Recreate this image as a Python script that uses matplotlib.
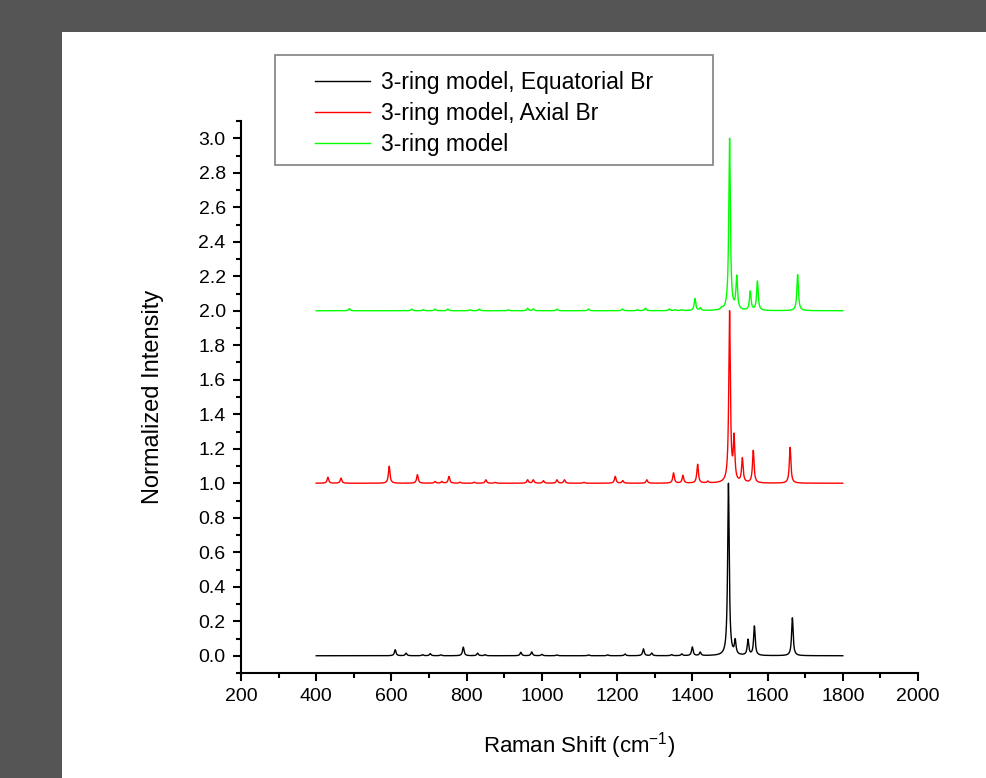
"""
Raman spectra of the 3-ring models (stacked, offset by 1.0)
"""
import matplotlib
matplotlib.use("Agg")
import matplotlib.pyplot as plt
from matplotlib.patches import Rectangle
from matplotlib.ticker import MultipleLocator
import numpy as np

plt.rcParams["font.family"] = ["Liberation Sans", "DejaVu Sans"]

# Peak lists: position (cm-1), relative height
eq_pos = [610, 639, 683, 703, 731, 791, 829, 849, 944, 973, 1000, 1040, 1124, 1175,
          1221, 1270, 1292, 1345, 1372, 1400, 1421, 1496, 1514, 1548, 1565, 1666]
eq_h = [0.035, 0.015, 0.006, 0.012, 0.005, 0.05, 0.015, 0.006, 0.02, 0.022, 0.008, 0.005,
        0.005, 0.005, 0.01, 0.04, 0.015, 0.006, 0.01, 0.05, 0.02, 1.0, 0.08, 0.09, 0.17, 0.22]

ax_pos = [431, 466, 594, 669, 716, 734, 753, 782, 820, 851, 876, 962, 977, 1004, 1040,
          1060, 1112, 1195, 1215, 1279, 1350, 1375, 1414, 1441, 1499, 1511, 1533, 1562, 1660]
ax_h = [0.035, 0.03, 0.1, 0.05, 0.01, 0.01, 0.04, 0.006, 0.006, 0.02, 0.005, 0.02, 0.02,
        0.015, 0.02, 0.02, 0.005, 0.04, 0.015, 0.02, 0.06, 0.045, 0.11, 0.01, 1.0, 0.25,
        0.14, 0.19, 0.21]

ring_pos = [488, 654, 685, 716, 750, 809, 834, 911, 962, 977, 1040, 1124, 1214, 1254,
            1275, 1339, 1354, 1372, 1407, 1421, 1478, 1499, 1518, 1554, 1573, 1680]
ring_h = [0.012, 0.01, 0.006, 0.01, 0.01, 0.006, 0.01, 0.005, 0.015, 0.01, 0.01, 0.01,
          0.01, 0.006, 0.015, 0.01, 0.006, 0.006, 0.07, 0.015, 0.01, 1.0, 0.19, 0.11,
          0.17, 0.21]

offsets = [0.0, 1.0, 2.0]
labels = ["3-ring model, Equatorial Br", "3-ring model, Axial Br", "3-ring model"]
colors = ["black", "red", "#00ff00"]


def broaden(pos, h, x, hwhm=2.5):
    """Lorentzian broadening of a stick spectrum, normalized to 1"""
    y = np.zeros_like(x)
    for p, a in zip(pos, h):
        y += a * hwhm**2 / ((x - p) ** 2 + hwhm**2)
    return y / y.max()


x = np.arange(400, 1800.01, 0.25)
spectra = [broaden(eq_pos, eq_h, x), broaden(ax_pos, ax_h, x), broaden(ring_pos, ring_h, x)]

fig = plt.figure(figsize=(9.87, 7.78), dpi=100, facecolor="#555555")
fig.patches.append(Rectangle((62 / 987, 0), 1 - 62 / 987, 1 - 32 / 778,
                             transform=fig.transFigure, facecolor="white",
                             edgecolor="none", zorder=-10))

ax = fig.add_axes([241 / 987, 1 - 673 / 778, (918 - 241) / 987, (673 - 121) / 778])
ax.set_facecolor("none")

handles = []
for y, off, lab, c in zip(spectra, offsets, labels, colors):
    (ln,) = ax.plot(x, y + off, color=c, linewidth=1.0, label=lab)
    handles.append(ln)

ax.set_xlim(200, 2000)
ax.set_ylim(-0.1, 3.1)
ax.xaxis.set_major_locator(MultipleLocator(200))
ax.xaxis.set_minor_locator(MultipleLocator(100))
ax.yaxis.set_major_locator(MultipleLocator(0.2))
ax.yaxis.set_minor_locator(MultipleLocator(0.1))
ax.yaxis.set_major_formatter(plt.FormatStrFormatter("%.1f"))

for s in ["top", "right"]:
    ax.spines[s].set_visible(False)
for s in ["left", "bottom"]:
    ax.spines[s].set_linewidth(1.5)

ax.tick_params(which="major", direction="out", length=6, width=1.5, labelsize=14,
               colors="black", pad=5)
ax.tick_params(which="minor", direction="out", length=3.5, width=1.5)

ax.set_xlabel("Raman Shift (cm$^{\\mathregular{-1}}$)", fontsize=16, labelpad=18)
ax.set_ylabel("Normalized Intensity", fontsize=17, labelpad=25)

# Legend box (drawn by hand so the padding matches)
fig.patches.append(Rectangle((275 / 987, 1 - 165 / 778), (713 - 275) / 987, (165 - 55) / 778,
                             transform=fig.transFigure, facecolor="white",
                             edgecolor="#808080", linewidth=1.2, zorder=5))
leg = fig.legend(handles=handles, loc="upper left", bbox_to_anchor=(304 / 987, 1 - 60 / 778),
                 frameon=False, fontsize=16.5, borderpad=0, handlelength=2.4,
                 handletextpad=0.45, labelspacing=0.33)
leg.set_zorder(6)

fig.savefig("out.png", dpi=100, facecolor=fig.get_facecolor())
